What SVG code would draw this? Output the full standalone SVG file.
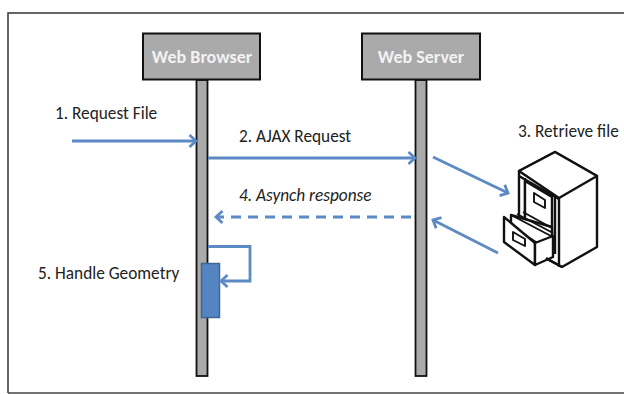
<svg xmlns="http://www.w3.org/2000/svg" width="624" height="394" viewBox="0 0 624 394">
<defs>
<marker id="a" markerUnits="userSpaceOnUse" markerWidth="16" markerHeight="16" refX="12" refY="8" orient="auto"><path d="M5.500 2 L12 8 L5.500 14" fill="none" stroke="#5b8ac4" stroke-width="2.800"/></marker>
</defs>
<style>
.t{font-family:Calibri,Carlito,"Liberation Sans",sans-serif;font-size:17.300px;fill:#222}
.h{font-family:Calibri,Carlito,"Liberation Sans",sans-serif;font-size:18px;font-weight:700;fill:#f2f2f2;text-anchor:middle}
.box{fill:#aaa;stroke:#111;stroke-width:2}
.bar{fill:#aaa;stroke:#111;stroke-width:1.800}
.c{fill:none;stroke:#5b8ac4;stroke-width:2.800;marker-end:url(#a)}
.f{fill:#fff;stroke:#111;stroke-width:2.400;stroke-linejoin:round}
.g{fill:#fff;stroke:#111;stroke-width:1.900;stroke-linejoin:round}
</style>
<rect width="624" height="394" fill="#fff"/>
<path d="M8 393 V13 H624" fill="none" stroke="#333" stroke-width="1.500"/>
<path d="M8 393 H624" fill="none" stroke="#444" stroke-width="1.500"/>
<g id="browser">
<rect class="bar" x="196.500" y="80" width="11" height="296"/>
<rect class="box" x="143" y="33.500" width="117" height="46"/>
<text class="h" x="202" y="63">Web Browser</text>
</g>
<g id="server">
<rect class="bar" x="415.500" y="80" width="11" height="296"/>
<rect class="box" x="362" y="33.500" width="118" height="46"/>
<text class="h" x="421" y="63">Web Server</text>
</g>
<g id="activation"><rect x="201.500" y="263.500" width="18" height="54" fill="#5585c0" stroke="#3f6795" stroke-width="1.500"/></g>
<g id="connectors">
<path class="c" d="M72 141 H196"/>
<path class="c" d="M208 158 H415"/>
<path class="c" d="M433 157 L508 193"/>
<path class="c" d="M498 253 L433 220"/>
<path class="c" d="M411 217 H216" stroke-dasharray="10 7"/>
<path class="c" d="M208 246.500 H250 V281 H221"/>
</g>
<g id="cabinet">
<path class="f" d="M555 152 L597 176 L597 247 L562 267 L545 258 L530 240 L519 217 L519 171 Z"/>
<path class="f" d="M519 171 L555 152 L597 176 L559 198 Z"/>
<path class="f" d="M559 198 V267"/>
<path class="f" d="M519 176 L559 199 M555 197 V254 M525 178 V222"/>
<path class="f" d="M525 181 L552 197 V240 L525 224 Z"/>
<path class="g" d="M534 193 L545 200 V208 L534 202 Z"/>
<path class="f" d="M511 215 L552 227 L552 240 L540 245 L511 226 Z"/>
<path class="g" d="M511 215 L551 236 M517 214 L553 233 M523 212 L552 228"/>
<path class="f" d="M504 217 L535 243 L535 265 L504 242 Z"/>
<path class="f" d="M535 243 L553 236 L553 257 L535 265 Z"/>
<path class="g" d="M513 232 L525 239 V246 L513 240 Z"/>
<path class="f" d="M546 258 L562 267"/>
</g>
<g id="labels">
<text class="t" x="55" y="119">1. Request  File</text>
<text class="t" x="239" y="142">2. AJAX Request</text>
<text class="t" x="518" y="137">3. Retrieve file</text>
<text class="t" x="239" y="201" font-style="italic">4. Asynch response</text>
<text class="t" x="38" y="279">5. Handle Geometry</text>
</g>
</svg>
